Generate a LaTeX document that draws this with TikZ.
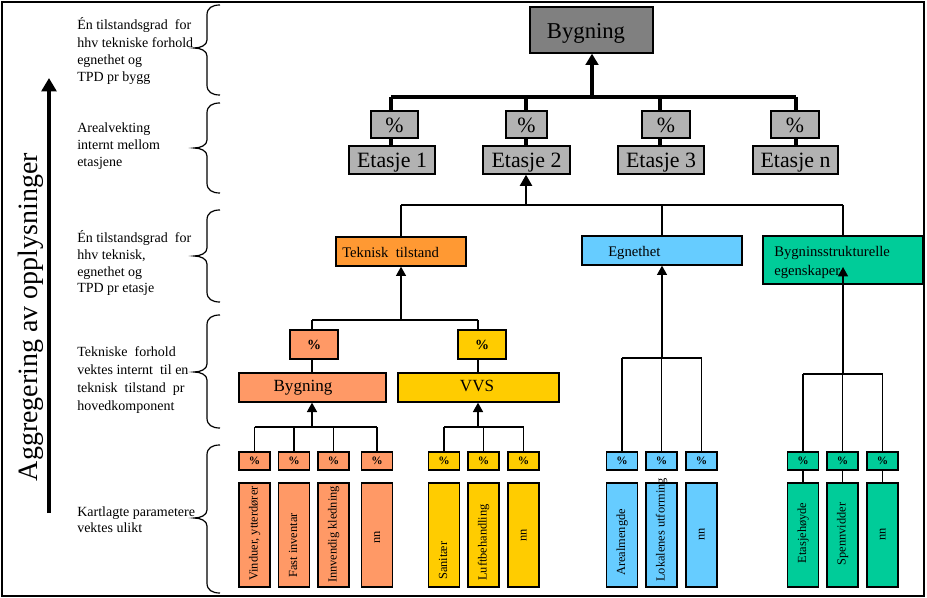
\documentclass[tikz,border=0pt]{standalone}
\usepackage{fontspec}
\setmainfont{Liberation Serif}
\usetikzlibrary{arrows.meta}
\definecolor{cDark}{HTML}{808080}
\definecolor{cLight}{HTML}{B2B2B2}
\definecolor{cTT}{HTML}{FF9933}
\definecolor{cSal}{HTML}{FF9966}
\definecolor{cYel}{HTML}{FFCC00}
\definecolor{cBlu}{HTML}{66CCFF}
\definecolor{cGrn}{HTML}{00CC99}
\newcommand\fsL{\fontsize{10.5pt}{13pt}\selectfont}
\newcommand\fsAgg{\fontsize{21pt}{25pt}\selectfont}
\newcommand\fsTop{\fontsize{17pt}{20pt}\selectfont}
\newcommand\fsEt{\fontsize{16.4pt}{19pt}\selectfont}
\newcommand\fsMid{\fontsize{11pt}{13pt}\selectfont}
\newcommand\fsComp{\fontsize{12.8pt}{15pt}\selectfont}
\newcommand\fsPm{\fontsize{10.5pt}{12pt}\selectfont}
\newcommand\fsP{\fontsize{8.5pt}{10pt}\selectfont}
\newcommand\fsR{\fontsize{9.3pt}{11pt}\selectfont}
\newcommand\rbox[7]{\node[boxst, fill=#6, minimum width={((#4)-(#2))*0.75pt}, minimum height={((#5)-(#3))*0.75pt}] (#1) at ({((#2)+(#4))/2},{((#3)+(#5))/2}) {#7};}
\newcommand\wbrace[3]{\draw[bracest] (220,#1) .. controls (212,#1) and (207,#1+3) .. (207,#1+10) -- (207,#2-8) .. controls (207,#2-3) and (201,#2) .. (194,#2) .. controls (201,#2) and (207,#2+3) .. (207,#2+8) -- (207,#3-10) .. controls (207,#3-3) and (212,#3) .. (220,#3);}
\newcommand\pctcol[6]{%
  \rbox{#1p}{#2-15.5}{452}{#2+15.5}{470}{#3}{\fsP\bfseries\%}
  \rbox{#1t}{#2-15.5}{483}{#2+15.5}{587}{#3}{}
  \node[rt, anchor=#5] (#1x) at (#2,#6) {#4};}
\begin{document}
\begin{tikzpicture}[x=0.75pt,y=-0.75pt,
  boxst/.style={draw, line width=1pt, inner sep=0pt},
  thickln/.style={line width=2.4pt},
  midln/.style={line width=2pt},
  thinln/.style={line width=1.1pt},
  bracest/.style={line width=0.9pt},
  bigarr/.style={line width=2.4pt, -{Triangle[width=9.5pt,length=8.5pt]}},
  midarr/.style={line width=2pt, -{Triangle[width=9pt,length=8.5pt]}},
  thinarr/.style={line width=1.1pt, -{Triangle[width=7.5pt,length=7pt]}},
  aggarr/.style={line width=3pt, -{Triangle[width=11pt,length=10pt]}},
  lt/.style={anchor=base west, inner sep=0pt, font=\fsL},
  rt/.style={rotate=90, inner sep=0pt, font=\fsR},
  bt/.style={anchor=base, inner sep=0pt},
  bl/.style={anchor=base west, inner sep=0pt}
]
\useasboundingbox (0,0) rectangle (927,598);
\draw[line width=1.5pt] (2,2) rectangle (924,596);

% left column texts
\node[lt] (l1a) at (77,30) {Én tilstandsgrad\ \ for};
\node[lt] (l1b) at (77,47.3) {hhv tekniske\ forhold};
\node[lt] (l1c) at (77,64.6) {egnethet og};
\node[lt] (l1d) at (77,82) {TPD pr bygg};
\node[lt] (l2a) at (77,133) {Arealvekting};
\node[lt] (l2b) at (77,150) {internt mellom};
\node[lt] (l2c) at (77,167) {etasjene};
\node[lt] (l3a) at (77,243) {Én tilstandsgrad\ \ for};
\node[lt] (l3b) at (77,260) {hhv teknisk,};
\node[lt] (l3c) at (77,277) {egnethet og};
\node[lt] (l3d) at (77,293) {TPD pr etasje};
\node[lt] (l4a) at (77,356) {Tekniske\ \ forhold};
\node[lt] (l4b) at (77,374) {vektes internt\ \ til en};
\node[lt] (l4c) at (77,392) {teknisk\ \ tilstand\ \ pr};
\node[lt] (l4d) at (77,410) {hovedkomponent};
\node[lt] (l5a) at (77,516) {Kartlagte parametere};
\node[lt] (l5b) at (77,532) {vektes ulikt};

% braces
\wbrace{5}{48}{95}
\wbrace{103}{148}{193}
\wbrace{210}{256}{302}
\wbrace{315}{372}{428}
\wbrace{445}{518}{593}

% aggregation arrow and label
\coordinate (aggb) at (49,513);
\coordinate (aggt) at (49,78);
\draw[aggarr] (aggb) -- (aggt);
\node[rotate=90, inner sep=0pt, font=\fsAgg] (agg) at (31,317) {Aggregering av opplysninger};

% ---------- connector lines (under boxes) ----------
\draw[thickln] (391,97) -- (796,97);
\foreach \x in {391,526,660,796} \draw[thickln] (\x,97) -- (\x,146);
\draw[midln] (401,205) -- (843,205);
\draw[midln] (401,205) -- (401,237);
\draw[midln] (662,205) -- (662,236);
\draw[midln] (843,205) -- (843,236);
% teknisk subtree
\draw[thinln] (312,320) -- (478,320);
\draw[thinln] (312,320) -- (312,373);
\draw[thinln] (478,320) -- (478,373);
% bottom groups
\draw[thinln] (254.5,427) -- (377,427);
\foreach \x in {254.5,294,333.5,377} \draw[thinln] (\x,427) -- (\x,452);
\draw[thinln] (444,427) -- (523.5,427);
\foreach \x in {444,483.5,523.5} \draw[thinln] (\x,427) -- (\x,452);
\draw[thinln] (622,358) -- (701.5,358);
\foreach \x in {622,661.5,701.5} \draw[thinln] (\x,358) -- (\x,452);
\draw[thinln] (803,374) -- (882.5,374);
\foreach \x in {803,842.5,882.5} \draw[thinln] (\x,374) -- (\x,483);

% ---------- boxes ----------
\rbox{top}{530}{7}{653}{53}{cDark}{}
\node[bt, font=\fsTop] (toptx) at (586,38.5) {Bygning};

\rbox{p1}{371}{111}{418}{138}{cLight}{}
\rbox{p2}{506}{111}{547}{138}{cLight}{}
\rbox{p3}{642}{111}{690}{138}{cLight}{}
\rbox{p4}{771}{111}{819}{138}{cLight}{}
\node[bt, font=\fsEt] (p1t) at (394.5,133) {\%};
\node[bt, font=\fsEt] (p2t) at (526.5,133) {\%};
\node[bt, font=\fsEt] (p3t) at (666,133) {\%};
\node[bt, font=\fsEt] (p4t) at (795,133) {\%};

\rbox{e1}{349}{146}{435}{174}{cLight}{}
\rbox{e2}{483}{146}{570}{174}{cLight}{}
\rbox{e3}{618}{146}{704}{174}{cLight}{}
\rbox{e4}{753}{146}{838}{174}{cLight}{}
\node[bt, font=\fsEt] (e1t) at (392,168) {Etasje 1};
\node[bt, font=\fsEt] (e2t) at (526.5,168) {Etasje 2};
\node[bt, font=\fsEt] (e3t) at (661,168) {Etasje 3};
\node[bt, font=\fsEt] (e4t) at (795.5,168) {Etasje n};

\rbox{tt}{336}{237}{466}{266}{cTT}{}
\node[bl, font=\fsMid] (ttt) at (342,258) {Teknisk\ \ tilstand};
\rbox{eg}{582}{236}{742}{265}{cBlu}{}
\node[bl, font=\fsMid] (egt) at (608,257) {Egnethet};
\rbox{bs}{763}{236}{923}{284}{cGrn}{}
\node[bl, font=\fsMid] (bst1) at (774,257) {Bygninsstrukturelle};
\node[bl, font=\fsMid] (bst2) at (774,276) {egenskaper};

\rbox{pb}{290}{330}{338}{359}{cSal}{\fsPm\bfseries\%}
\rbox{pv}{458}{330}{506}{359}{cYel}{\fsPm\bfseries\%}
\rbox{bg}{239}{373}{386}{402}{cSal}{}
\node[bt, font=\fsComp] (bgt) at (303,391.5) {Bygning};
\rbox{vv}{398}{373}{559}{402}{cYel}{}
\node[bt, font=\fsComp] (vvt) at (477,391.5) {VVS};

% bottom columns
\pctcol{oa}{254.5}{cSal}{Vinduer, ytterdører}{mid west}{581}
\pctcol{ob}{294}{cSal}{Fast inventar}{mid west}{578}
\pctcol{oc}{333.5}{cSal}{Innvendig kledning}{mid west}{583}
\pctcol{od}{377}{cSal}{nn}{mid}{537}
\pctcol{ya}{444}{cYel}{Sanitær}{mid west}{580}
\pctcol{yb}{483.5}{cYel}{Luftbehandling}{mid west}{581}
\pctcol{yc}{523.5}{cYel}{nn}{mid}{535}
\pctcol{ba}{622}{cBlu}{Arealmengde}{mid west}{576}
\pctcol{bb}{661.5}{cBlu}{Lokalenes utforming}{mid west}{582}
\pctcol{bc}{701.5}{cBlu}{nn}{mid}{534}
\pctcol{ga}{803}{cGrn}{Etasjehøyde}{mid}{533}
\pctcol{gb}{842.5}{cGrn}{Spennvidder}{mid}{534}
\pctcol{gc}{882.5}{cGrn}{nn}{mid}{534}

% ---------- arrows ----------
\coordinate (jt) at (592,97);
\draw[bigarr] (jt) -- (top.south -| jt);
\coordinate (je) at (526,205);
\draw[midarr] (je) -- (e2.south -| je);
\coordinate (jtt) at (401,320);
\draw[thinarr] (jtt) -- (tt.south -| jtt);
\coordinate (jeg) at (662,358);
\draw[thinarr] (jeg) -- (eg.south -| jeg);
\coordinate (jbs) at (843,374);
\coordinate (jbsend) at (843,267);
\draw[thinarr] (jbs) -- (jbsend);
\coordinate (jbg) at (312,427);
\draw[thinarr] (jbg) -- (bg.south -| jbg);
\coordinate (jvv) at (478,427);
\draw[thinarr] (jvv) -- (vv.south -| jvv);
\end{tikzpicture}
\end{document}
